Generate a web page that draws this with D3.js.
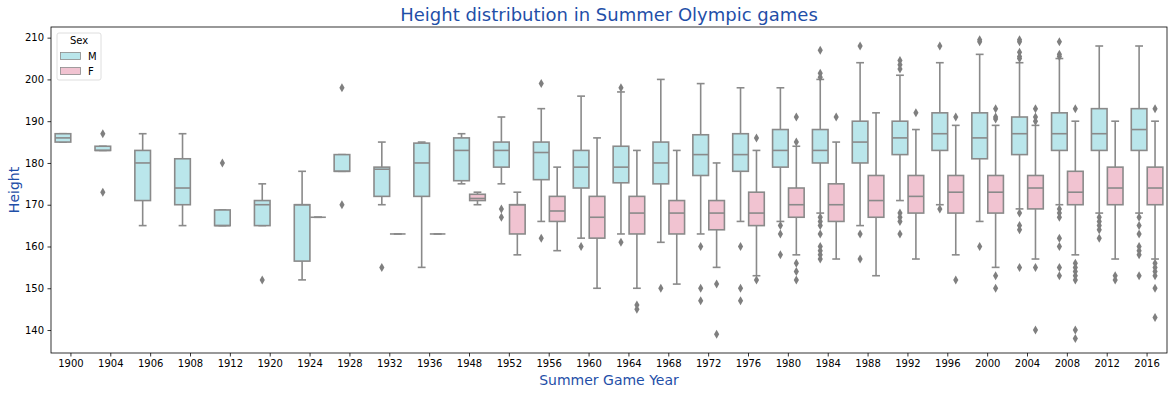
<!DOCTYPE html>
<html>
<head>
<meta charset="utf-8">
<script src="https://cdn.jsdelivr.net/npm/d3@7"></script>
<style>
  body { margin: 0; background: #fff; }
  text { font-family: "DejaVu Sans", sans-serif; }
</style>
</head>
<body>
<svg width="1174" height="395"></svg>
<script>
// game years on the x axis
var years = ["1900","1904","1906","1908","1912","1920","1924","1928","1932","1936",
             "1948","1952","1956","1960","1964","1968","1972","1976","1980",
             "1984","1988","1992","1996","2000","2004","2008","2012","2016"];

// box stats per year: [whisker low, q1, median, q3, whisker high]
var maleStats = [
  [185,185,186,187,187],[183,183,183,184,184],[165,171,180,183,187],[165,170,174,181,187],
  [165,165,165,168.75,168.75],[165,165,170,171,175],[152,156.5,170,170,178],[178,178,178,182,182],
  [170,172,178.5,179,185],[155,172,180,184.75,185],[175,175.75,183,186,187],[175,179,183,185,191],
  [166,176,182.5,185,193],[162,174,179,183,196],[163,175.25,179,184,197],[161,175,180,185,200],
  [163,177,182,186.75,199],[166,178,182,187,198],[166,179,183,188,198],[168,180,183,188,200],
  [165,180,185,190,204],[171,182,186,190,201],[170,183,187,192,204],[166,181,186,192,206],
  [169,182,187,191,204],[170,183,187,192,205],[168,183,187,193,208],[168,183,188,193,208]
];
var femaleStats = [
  null,null,null,null,null,null,[167,167,167,167,167],null,
  [163,163,163,163,163],[163,163,163,163,163],[170,171,171.5,172.5,173],[158,163,170,170,173],
  [159,166,168.5,172,179],[150,162,167,172,186],[150,163,168,172,183],[151,163,168,171,183],
  [155,164,168,171,180],[153,165,168,173,183],[158,167,170,174,184],[157,166,170,175,185],
  [153,167,171,177,192],[157,168,172,177,188],[158,168,173,177,189],[155,168,173,177,189],
  [157,169,174,177,189],[158,170,173,178,190],[157,170,174,179,190],[157,170,174,179,190]
];

var maleOutliers = [
  [],[187,173],[],[],[180],[152],[],[198,170],[155],[],[],[169,167],
  [199,162],[160],[198,161],[150],[160,150,147],[160,150,147],[165,163,158],
  [207,201.5,200.5,167,166,165,163,160,159,158,157],[208,163,157],
  [204.5,203.5,202.5,168,167,166,163],[208,169],[209.5,209,160],
  [209.5,209,206.5,205.5,205,168,165,164,155],[209,206,205.5,169,168,167,162,160,155,153],
  [167,166,165,164,162],[167,165,163,160,159,158,153]
];
var femaleOutliers = [
  [],[],[],[],[],[],[],[],[],[],[],[],
  [],[],[146,145],[],[151,139],[186,152],[191,185,156,154,152],
  [191],[],[192],[191,152],[193,191,190.5,153,150],
  [193,191,190,155,140],[193,156,155,154,153,152,140,138],
  [153,152],[193,156,155,154,153,150,143]
];

var yTicks = [140,150,160,170,180,190,200,210];
var sexes = ["M","F"];
var fills = ["#bae6eb","#f1c3d1"];
var lineColor = "#8a8a8a";

var svg = d3.select("svg");
var mLeft = 51, mRight = 1167, mTop = 27, mBottom = 353;

var x = d3.scaleBand().domain(years).range([mLeft, mRight]).padding(0);
var y = d3.scaleLinear().domain([134.5, 212.55]).range([mBottom, mTop]);

var bw = x.bandwidth();
var boxW = bw * 0.4 * 0.98;

// axes
svg.append("g")
   .attr("transform", "translate(0," + mBottom + ")")
   .call(d3.axisBottom(x).tickSize(3.5).tickPadding(3.5).tickSizeOuter(0))
   .call(function(g){ g.select(".domain").remove(); })
   .selectAll("text").style("font-size", "10px").attr("fill", "#000");

svg.append("g")
   .attr("transform", "translate(" + mLeft + ",0)")
   .call(d3.axisLeft(y).tickValues(yTicks).tickSize(3.5).tickPadding(3.5).tickSizeOuter(0))
   .call(function(g){ g.select(".domain").remove(); })
   .selectAll("text").style("font-size", "10px").attr("fill", "#000");

svg.selectAll(".tick line").attr("stroke", "#000").attr("stroke-width", 0.8);

var plot = svg.append("g");

function drawBoxes(stats, outliers, k) {
  var off = (k === 0 ? -0.2 : 0.2) * bw;
  years.forEach(function(yr, i) {
    var s = stats[i];
    if (!s) return;
    var cx = x(yr) + bw / 2 + off;
    var g = plot.append("g");
    // whiskers
    g.append("line").attr("x1", cx).attr("x2", cx).attr("y1", y(s[0])).attr("y2", y(s[1]));
    g.append("line").attr("x1", cx).attr("x2", cx).attr("y1", y(s[3])).attr("y2", y(s[4]));
    g.append("line").attr("x1", cx - boxW / 4).attr("x2", cx + boxW / 4).attr("y1", y(s[0])).attr("y2", y(s[0]));
    g.append("line").attr("x1", cx - boxW / 4).attr("x2", cx + boxW / 4).attr("y1", y(s[4])).attr("y2", y(s[4]));
    g.append("rect")
     .attr("x", cx - boxW / 2).attr("width", boxW)
     .attr("y", y(s[3])).attr("height", Math.max(0, y(s[1]) - y(s[3])))
     .attr("fill", fills[k]);
    g.append("line").attr("x1", cx - boxW / 2).attr("x2", cx + boxW / 2).attr("y1", y(s[2])).attr("y2", y(s[2]));
    g.selectAll("line, rect").attr("stroke", lineColor).attr("stroke-width", 1.6);
    // outliers as thin diamonds
    g.selectAll(".out").data(outliers[i]).enter().append("path")
     .attr("d", function(v) {
       var py = y(v);
       return "M" + cx + "," + (py - 4.5) + "L" + (cx + 2.6) + "," + py + "L" + cx + "," + (py + 4.5) + "L" + (cx - 2.6) + "," + py + "Z";
     })
     .attr("fill", "#7f7f7f");
  });
}

drawBoxes(maleStats, maleOutliers, 0);
drawBoxes(femaleStats, femaleOutliers, 1);

// frame
svg.append("rect").attr("x", mLeft).attr("y", mTop).attr("width", mRight - mLeft).attr("height", mBottom - mTop)
   .attr("fill", "none").attr("stroke", "#000").attr("stroke-width", 0.8);

// titles
svg.append("text").attr("x", (mLeft + mRight) / 2).attr("y", 21).attr("text-anchor", "middle")
   .style("font-size", "18px").attr("fill", "#1f4fa8").text("Height distribution in Summer Olympic games");
svg.append("text").attr("x", (mLeft + mRight) / 2).attr("y", 385).attr("text-anchor", "middle")
   .style("font-size", "14px").attr("fill", "#1f4fa8").text("Summer Game Year");
svg.append("text").attr("transform", "translate(19," + ((mTop + mBottom) / 2) + ") rotate(-90)")
   .attr("text-anchor", "middle").style("font-size", "14px").attr("fill", "#1f4fa8").text("Height");

// legend
var lg = svg.append("g").attr("transform", "translate(57,33)");
lg.append("rect").attr("width", 44).attr("height", 47).attr("rx", 2)
  .attr("fill", "#fff").attr("fill-opacity", 0.8).attr("stroke", "#d6d6d6").attr("stroke-width", 0.8);
lg.append("text").attr("x", 22).attr("y", 11).attr("text-anchor", "middle").style("font-size", "10px").text("Sex");
sexes.forEach(function(s, i) {
  lg.append("rect").attr("x", 3.5).attr("y", 19.5 + i * 15).attr("width", 20).attr("height", 7)
    .attr("fill", fills[i]).attr("stroke", lineColor).attr("stroke-width", 0.8);
  lg.append("text").attr("x", 31).attr("y", 27 + i * 15).style("font-size", "10px").text(s);
});
</script>
</body>
</html>
